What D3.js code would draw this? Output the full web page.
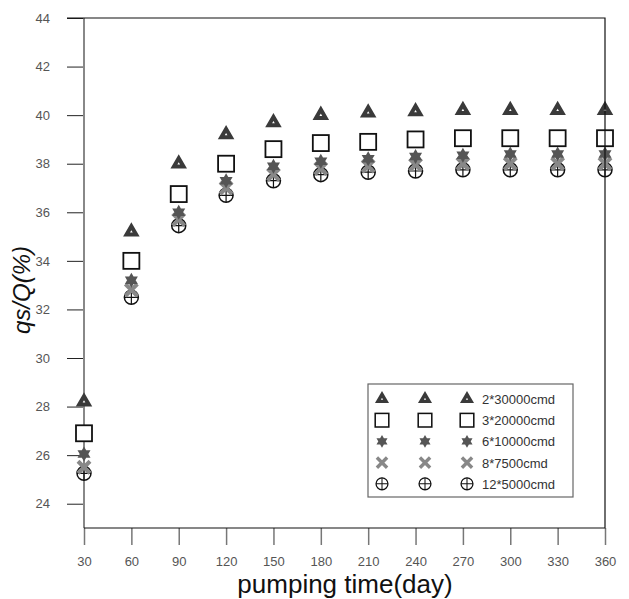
<!DOCTYPE html>
<html>
<head>
<meta charset="utf-8">
<script src="https://cdn.jsdelivr.net/npm/d3@7"></script>
<style>
  body { margin: 0; background: #fff; }
  svg { font-family: 'Liberation Sans', Arial, sans-serif; }
</style>
</head>
<body>
<svg id="chart" width="629" height="599"></svg>
<script>
// pumping time (day)
const days = [30, 60, 90, 120, 150, 180, 210, 240, 270, 300, 330, 360]
const yTicks = [24, 26, 28, 30, 32, 34, 36, 38, 40, 42, 44]

// qs/Q (%) for each scheme
const s2x30000 = [28.2, 35.2, 38.0, 39.2, 39.7, 40.0, 40.1, 40.15, 40.2, 40.2, 40.2, 40.2]
const s3x20000 = [26.9, 34.0, 36.75, 38.0, 38.6, 38.85, 38.9, 39.0, 39.05, 39.05, 39.05, 39.05]
const s6x10000 = [26.05, 33.2, 36.0, 37.3, 37.9, 38.1, 38.2, 38.3, 38.35, 38.4, 38.4, 38.4]
const s8x7500 = [25.5, 32.8, 35.7, 37.0, 37.55, 37.8, 37.9, 37.95, 38.0, 38.0, 38.0, 38.0]
const s12x5000 = [25.25, 32.5, 35.45, 36.7, 37.3, 37.55, 37.65, 37.7, 37.75, 37.75, 37.75, 37.75]

const seriesNames = ['2*30000cmd', '3*20000cmd', '6*10000cmd', '8*7500cmd', '12*5000cmd']
const seriesValues = [s2x30000, s3x20000, s6x10000, s8x7500, s12x5000]
const seriesMarks = ['triangle', 'square', 'star', 'cross', 'circle']

const svg = d3.select('#chart')
const margin = { top: 18, right: 24, bottom: 71, left: 84 }
const width = +svg.attr('width') - margin.left - margin.right
const height = +svg.attr('height') - margin.top - margin.bottom

const x = d3.scaleLinear().domain([30, 360]).range([margin.left, margin.left + width])
const y = d3.scaleLinear().domain([23, 44]).range([margin.top + height, margin.top])

// marker painter
const drawMark = (g, kind) => {
  if (kind === 'triangle') {
    g.append('path')
      .attr('d', d3.symbol(d3.symbolTriangle, 40)())
      .attr('fill', '#fff').attr('stroke', '#3a3a3a').attr('stroke-width', 4)
      .attr('stroke-linejoin', 'miter')
  } else if (kind === 'square') {
    g.append('rect').attr('x', -8).attr('y', -8).attr('width', 16).attr('height', 16)
      .attr('fill', '#fff').attr('stroke', '#111').attr('stroke-width', 1.8)
  } else if (kind === 'star') {
    g.append('path')
      .attr('d', 'M0,-7.5L6.5,3.75L-6.5,3.75Z M0,7.5L-6.5,-3.75L6.5,-3.75Z')
      .attr('fill', '#555').attr('stroke', 'none')
  } else if (kind === 'cross') {
    g.append('path')
      .attr('d', 'M-6,-6L6,6M-6,6L6,-6')
      .attr('stroke', '#888').attr('stroke-width', 4).attr('fill', 'none')
  } else {
    g.append('circle').attr('r', 7).attr('fill', 'none').attr('stroke', '#111').attr('stroke-width', 1.5)
    g.append('path').attr('d', 'M-7,0H7M0,-7V7').attr('stroke', '#111').attr('stroke-width', 1.2)
  }
}

// y axis (left, gray line, ticks outward)
const yAxis = svg.append('g')
  .attr('transform', `translate(${margin.left},0)`)
  .call(d3.axisLeft(y).tickValues(yTicks).tickSize(17).tickPadding(17))
yAxis.select('.domain').remove()
yAxis.selectAll('.tick line').attr('stroke', '#222')
yAxis.selectAll('text').attr('font-size', 13).attr('fill', '#555')
svg.append('line')
  .attr('x1', margin.left).attr('x2', margin.left)
  .attr('y1', y(44)).attr('y2', y(23))
  .attr('stroke', '#888').attr('stroke-width', 2)

// x axis (bottom, ticks downward)
const xAxis = svg.append('g')
  .attr('transform', `translate(0,${y(23)})`)
  .call(d3.axisBottom(x).tickValues(days).tickSize(17).tickPadding(12))
xAxis.select('.domain').remove()
xAxis.selectAll('.tick line').attr('stroke', '#777').attr('stroke-width', 1.5)
xAxis.selectAll('text').attr('font-size', 13).attr('fill', '#555')

// points, drawn back to front
const order = [4, 3, 2, 1, 0]
order.forEach((i) => {
  const vals = seriesValues[i]
  days.forEach((d, j) => {
    const g = svg.append('g').attr('transform', `translate(${x(d)},${y(vals[j])})`)
    drawMark(g, seriesMarks[i])
  })
})

// frame: top, right, bottom
svg.append('path')
  .attr('d', `M${margin.left - 17},${y(44)}H${x(360)}V${y(23)}H${margin.left}`)
  .attr('fill', 'none').attr('stroke', '#111').attr('stroke-width', 1.2)

// legend
const lg = svg.append('g').attr('transform', 'translate(368,384)')
lg.append('rect').attr('width', 205).attr('height', 113)
  .attr('fill', '#fff').attr('stroke', '#666').attr('stroke-width', 1.2)
seriesNames.forEach((name, i) => {
  const ry = 15 + i * 21.2
  ;[14, 57, 99].forEach((cx) => {
    drawMark(lg.append('g').attr('transform', `translate(${cx},${ry}) scale(0.85)`), seriesMarks[i])
  })
  lg.append('text').attr('x', 114).attr('y', ry + 5)
    .attr('font-size', 13).attr('fill', '#333').text(name)
})

// axis titles
svg.append('text')
  .attr('x', 345).attr('y', 593)
  .attr('text-anchor', 'middle').attr('font-size', 26).attr('fill', '#111')
  .text('pumping time(day)')

svg.append('text')
  .attr('transform', 'translate(30,290) rotate(-90)')
  .attr('text-anchor', 'middle').attr('font-size', 24).attr('font-style', 'italic').attr('fill', '#111')
  .text('qs/Q(%)')
</script>
</body>
</html>
